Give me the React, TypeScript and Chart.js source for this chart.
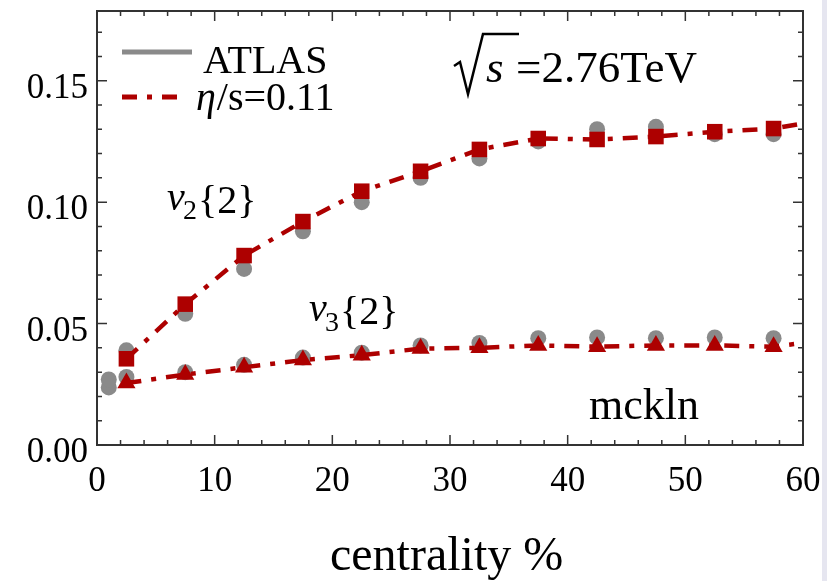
import { useEffect, useRef } from 'react';
import { Chart, registerables } from 'chart.js';

Chart.register(...registerables);

// ---------- data ----------
const centrality = [2.5, 7.5, 12.5, 17.5, 22.5, 27.5, 32.5, 37.5, 42.5, 47.5, 52.5, 57.5];
const atlasCentralX = [1];
const atlasV2Central = [0.027];
const atlasV3Central = [0.0237];
const atlasV2 = [0.039, 0.054, 0.0725, 0.088, 0.1, 0.11, 0.118, 0.125, 0.13, 0.131, 0.128, 0.128];
const atlasV3 = [0.028, 0.03, 0.033, 0.036, 0.038, 0.041, 0.042, 0.044, 0.0443, 0.044, 0.0443, 0.044];
const modelV2 = [0.0355, 0.058, 0.078, 0.092, 0.1045, 0.1127, 0.1217, 0.1262, 0.1258, 0.127, 0.129, 0.1303];
const modelV3 = [0.0255, 0.029, 0.032, 0.035, 0.037, 0.0397, 0.04, 0.041, 0.0405, 0.041, 0.041, 0.0405];
const lineEndX = 60;
const modelV2End = 0.1324;
const modelV3End = 0.042;
const yTickValues = [0, 0.05, 0.1, 0.15];
const xTickValues = [0, 10, 20, 30, 40, 50, 60];

const RED = '#ad0000';
const GRAY = '#8a8a8a';
const SERIF = '"Liberation Serif", "Times New Roman", serif';

const pts = (xs: number[], ys: number[]) => xs.map((x, i) => ({ x, y: ys[i] }));

const framePlugin = {
  id: 'frameAndText',
  afterDraw(chart: any) {
    const { ctx, chartArea: a, scales } = chart;
    const xs = scales.x;
    const ys = scales.y;
    ctx.save();
    // frame
    ctx.strokeStyle = '#333';
    ctx.lineWidth = 2;
    ctx.strokeRect(a.left, a.top, a.right - a.left, a.bottom - a.top);
    // inner ticks
    ctx.lineWidth = 1.5;
    ctx.beginPath();
    for (let v = 0; v <= 60 + 1e-9; v += 2) {
      const px = xs.getPixelForValue(v);
      const len = Math.abs(v % 10) < 1e-9 ? 10 : 5;
      ctx.moveTo(px, a.bottom);
      ctx.lineTo(px, a.bottom - len);
      ctx.moveTo(px, a.top);
      ctx.lineTo(px, a.top + len);
    }
    for (let i = 0; i <= 17; i++) {
      const v = i / 100;
      const py = ys.getPixelForValue(v);
      const len = i % 5 === 0 ? 10 : 5;
      ctx.moveTo(a.left, py);
      ctx.lineTo(a.left + len, py);
      ctx.moveTo(a.right, py);
      ctx.lineTo(a.right - len, py);
    }
    ctx.stroke();

    // legend
    ctx.lineCap = 'butt';
    ctx.strokeStyle = GRAY;
    ctx.lineWidth = 5;
    ctx.beginPath();
    ctx.moveTo(122, 52);
    ctx.lineTo(192, 52);
    ctx.stroke();
    ctx.strokeStyle = RED;
    ctx.setLineDash([15, 10, 5, 10]);
    ctx.beginPath();
    ctx.moveTo(122, 97);
    ctx.lineTo(178, 97);
    ctx.stroke();
    ctx.setLineDash([]);

    ctx.fillStyle = '#000';
    ctx.textBaseline = 'alphabetic';
    ctx.textAlign = 'left';
    ctx.font = `40px ${SERIF}`;
    ctx.fillText('ATLAS', 203, 73);
    ctx.font = `italic 40px ${SERIF}`;
    ctx.fillText('η', 196, 110);
    const w = ctx.measureText('η').width;
    ctx.font = `40px ${SERIF}`;
    ctx.fillText('/s=0.11', 196 + w + 1, 110);

    // sqrt(s) = 2.76TeV
    ctx.strokeStyle = '#000';
    ctx.lineWidth = 2.5;
    ctx.lineJoin = 'miter';
    ctx.beginPath();
    ctx.moveTo(454, 66);
    ctx.lineTo(460, 62);
    ctx.lineTo(468, 94);
    ctx.lineTo(483, 34);
    ctx.lineTo(519, 34);
    ctx.stroke();
    ctx.font = `italic 45px ${SERIF}`;
    ctx.fillText('s', 486, 82);
    ctx.font = `45px ${SERIF}`;
    ctx.fillText('=2.76TeV', 516, 82);

    // v2{2}
    ctx.font = `italic 40px ${SERIF}`;
    ctx.fillText('v', 167, 210);
    ctx.font = `28px ${SERIF}`;
    ctx.fillText('2', 183, 219);
    ctx.font = `40px ${SERIF}`;
    ctx.fillText('{2}', 198, 213);

    // v3{2}
    ctx.font = `italic 40px ${SERIF}`;
    ctx.fillText('v', 309, 321);
    ctx.font = `28px ${SERIF}`;
    ctx.fillText('3', 325, 331);
    ctx.font = `40px ${SERIF}`;
    ctx.fillText('{2}', 340, 324);

    // mckln
    ctx.font = `44px ${SERIF}`;
    ctx.fillText('mckln', 589, 419);

    // x axis title
    ctx.font = `48px ${SERIF}`;
    ctx.fillText('centrality %', 330, 570);

    // right page edge band
    ctx.fillStyle = '#e6e6f0';
    ctx.fillRect(822, 0, 5, 581);
    ctx.restore();
  },
};

export default function App() {
  const ref = useRef<HTMLCanvasElement | null>(null);
  useEffect(() => {
    document.body.style.margin = '0';
    const canvas = ref.current!;
    const chart = new Chart(canvas, {
      type: 'scatter',
      data: {
        datasets: [
          {
            label: 'η/s=0.11 v2',
            data: pts([...centrality, lineEndX], [...modelV2, modelV2End]),
            showLine: true,
            borderColor: RED,
            backgroundColor: RED,
            borderWidth: 4.5,
            borderDash: [15, 10, 5, 10],
            pointStyle: 'rect',
            pointRadius: [...centrality.map(() => 11), 0],
            pointBorderWidth: 0,
            order: 1,
          },
          {
            label: 'η/s=0.11 v3',
            data: pts([...centrality, lineEndX], [...modelV3, modelV3End]),
            showLine: true,
            borderColor: RED,
            backgroundColor: RED,
            borderWidth: 4.5,
            borderDash: [15, 10, 5, 10],
            pointStyle: 'triangle',
            pointRadius: [...centrality.map(() => 10.5), 0],
            pointBorderWidth: 0,
            order: 2,
          },
          {
            label: 'ATLAS v2',
            data: pts([...atlasCentralX, ...centrality], [...atlasV2Central, ...atlasV2]),
            showLine: false,
            backgroundColor: GRAY,
            borderColor: GRAY,
            pointStyle: 'circle',
            pointRadius: 8,
            pointBorderWidth: 0,
            order: 3,
          },
          {
            label: 'ATLAS v3',
            data: pts([...atlasCentralX, ...centrality], [...atlasV3Central, ...atlasV3]),
            showLine: false,
            backgroundColor: GRAY,
            borderColor: GRAY,
            pointStyle: 'circle',
            pointRadius: 8,
            pointBorderWidth: 0,
            order: 4,
          },
        ],
      },
      options: {
        responsive: false,
        animation: false,
        layout: { padding: { left: 0, top: 9, right: 33, bottom: 0 } },
        plugins: { legend: { display: false }, tooltip: { enabled: false } },
        scales: {
          x: {
            type: 'linear',
            min: 0,
            max: 60,
            afterBuildTicks: (s: any) => {
              s.ticks = xTickValues.map((v) => ({ value: v }));
            },
            afterFit: (s: any) => {
              s.height = 136;
              s.paddingLeft = 0;
              s.paddingRight = 0;
            },
            ticks: {
              color: '#000',
              font: { family: SERIF, size: 35 },
              padding: 16,
              maxRotation: 0,
              callback: (v: any) => String(v),
            },
            grid: { display: false, drawTicks: false },
            border: { display: false },
          },
          y: {
            type: 'linear',
            min: 0,
            max: 0.1787,
            afterBuildTicks: (s: any) => {
              s.ticks = yTickValues.map((v) => ({ value: v }));
            },
            afterFit: (s: any) => {
              s.width = 97;
              s.paddingTop = 0;
              s.paddingBottom = 0;
            },
            ticks: {
              color: '#000',
              font: { family: SERIF, size: 35 },
              padding: 9,
              labelOffset: 8,
              callback: (v: any) => Number(v).toFixed(2),
            },
            grid: { display: false, drawTicks: false },
            border: { display: false },
          },
        },
      },
      plugins: [framePlugin],
    } as any);
    return () => chart.destroy();
  }, []);
  return <canvas ref={ref} width={836} height={581} style={{ display: 'block' }} />;
}
